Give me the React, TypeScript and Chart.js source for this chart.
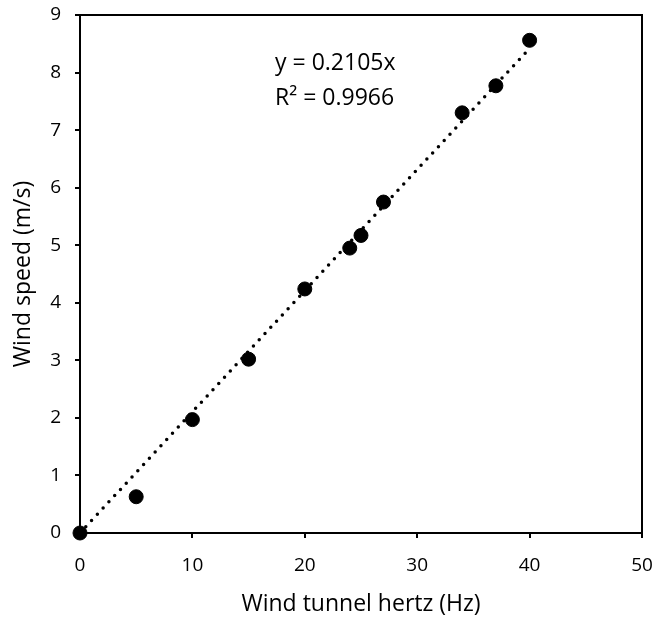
import React, { useEffect, useRef } from 'react';
import { Chart, registerables } from 'chart.js';

Chart.register(...registerables);

const hertz = [0, 5, 10, 15, 20, 24, 25, 27, 34, 37, 40];
const windSpeed = [0, 0.63, 1.97, 3.02, 4.24, 4.95, 5.17, 5.75, 7.3, 7.77, 8.56];
const trendSlope = 0.2105;
const trendX = [0, 40];
const equationLines = ['y = 0.2105x', 'R² = 0.9966'];
const xTitle = 'Wind tunnel hertz (Hz)';
const yTitle = 'Wind speed (m/s)';

const FONT = '"Open Sans", sans-serif';
const TICK_FS = 19;
const TITLE_FS = 23;

const framePlugin = {
  id: 'frame',
  afterDatasetsDraw(chart: any) {
    const { ctx, chartArea: a } = chart;
    ctx.save();
    ctx.strokeStyle = '#000';
    ctx.lineWidth = 2;
    ctx.beginPath();
    ctx.moveTo(a.left, a.top);
    ctx.lineTo(a.right, a.top);
    ctx.lineTo(a.right, a.bottom);
    ctx.stroke();
    ctx.fillStyle = '#000';
    ctx.font = `${TITLE_FS}px ${FONT}`;
    ctx.textBaseline = 'middle';
    ctx.textAlign = 'left';
    const xs = chart.scales.x;
    const ys = chart.scales.y;
    const x0 = xs.getPixelForValue(17.35);
    ctx.fillText(equationLines[0], x0, ys.getPixelForValue(8.15));
    ctx.fillText(equationLines[1], x0, ys.getPixelForValue(7.55));
    ctx.restore();
  },
};

const zeroPad = (s: any) => {
  s.paddingLeft = 0;
  s.paddingRight = 0;
  s.paddingTop = 0;
  s.paddingBottom = 0;
};

export default function App() {
  const ref = useRef<HTMLCanvasElement>(null);
  useEffect(() => {
    if (!ref.current) return;
    const chart = new Chart(ref.current, {
      type: 'scatter',
      data: {
        datasets: [
          {
            type: 'line',
            data: trendX.map((x) => ({ x, y: trendSlope * x })),
            borderColor: '#000',
            borderWidth: 3.5,
            borderDash: [0, 8.5],
            borderCapStyle: 'round',
            pointRadius: 0,
            fill: false,
            clip: false,
            order: 0,
          } as any,
          {
            data: hertz.map((x, i) => ({ x, y: windSpeed[i] })),
            backgroundColor: '#000',
            borderColor: '#000',
            pointRadius: 7,
            pointHoverRadius: 7,
            clip: false,
            order: 1,
          } as any,
        ],
      },
      options: {
        animation: false,
        responsive: false,
        devicePixelRatio: 1,
        layout: { padding: { left: 0, right: 15, top: 15, bottom: 0 } },
        plugins: { legend: { display: false }, tooltip: { enabled: false } },
        scales: {
          x: {
            type: 'linear',
            min: 0,
            max: 50,
            ticks: { stepSize: 10, color: '#000', font: { family: FONT, size: TICK_FS }, padding: 16 },
            grid: { drawOnChartArea: false, drawTicks: true, tickLength: 5, color: '#000', lineWidth: 2 },
            border: { display: true, color: '#000', width: 2 },
            title: {
              display: true,
              text: xTitle,
              color: '#000',
              font: { family: FONT, size: TITLE_FS },
              padding: { top: 0, bottom: 2 },
            },
            afterFit: (s: any) => {
              s.height = 87;
              zeroPad(s);
            },
          },
          y: {
            type: 'linear',
            min: 0,
            max: 9,
            ticks: { stepSize: 1, color: '#000', font: { family: FONT, size: TICK_FS }, padding: 14 },
            grid: { drawOnChartArea: false, drawTicks: true, tickLength: 5, color: '#000', lineWidth: 2 },
            border: { display: true, color: '#000', width: 2 },
            title: {
              display: true,
              text: yTitle,
              color: '#000',
              font: { family: FONT, size: TITLE_FS },
              padding: { top: 10, bottom: 0 },
            },
            afterFit: (s: any) => {
              s.width = 80;
              zeroPad(s);
            },
          },
        },
      },
      plugins: [framePlugin],
    });
    return () => chart.destroy();
  }, []);
  return (
    <div style={{ position: 'absolute', left: 0, top: 0, width: 657, height: 620 }}>
      <canvas ref={ref} width={657} height={620} style={{ display: 'block' }} />
    </div>
  );
}
